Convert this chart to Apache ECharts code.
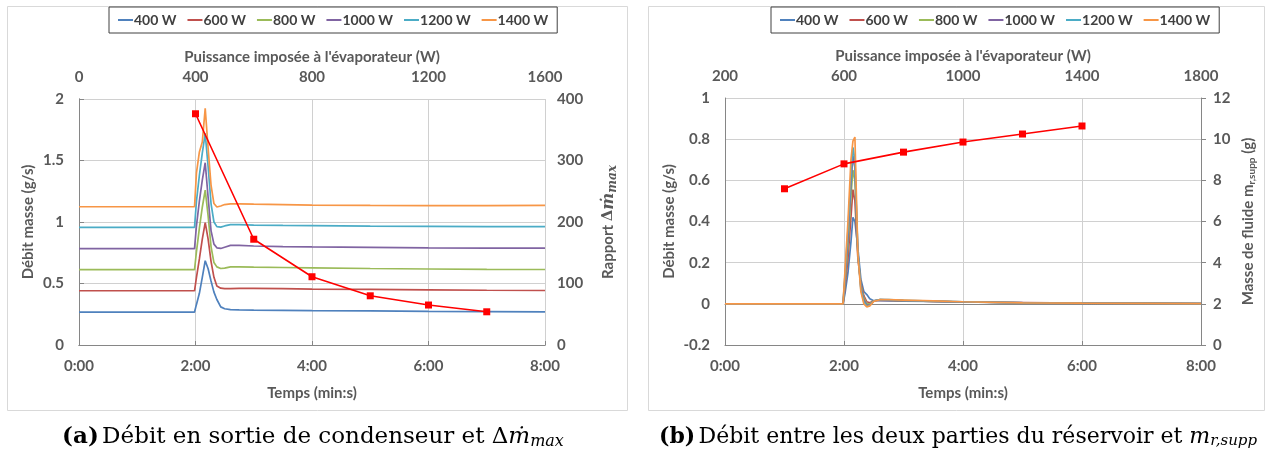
<!DOCTYPE html>
<html>
<head>
<meta charset="utf-8">
<script src="https://cdn.jsdelivr.net/npm/echarts@6/dist/echarts.min.js"></script>
<style>
html,body{margin:0;padding:0;background:#fff;}
#c{width:1269px;height:452px;}
</style>
</head>
<body>
<div id="c"></div>
<script>
// ---------- DATA ----------
const seriesNames = ['400 W', '600 W', '800 W', '1000 W', '1200 W', '1400 W'];
const seriesColors = ['#4F81BD', '#C0504D', '#9BBB59', '#8064A2', '#4BACC6', '#F79646'];

// (a) condenser outlet mass flow (g/s) vs time (s)
const timesA = [0, 119, 121, 124, 127, 130, 133, 136, 139, 142, 146, 150, 156, 165, 180, 210, 240, 300, 360, 420, 480];
const flowA400  = [0.268,0.268,0.33,0.42,0.55,0.685,0.62,0.52,0.43,0.37,0.31,0.295,0.287,0.285,0.283,0.282,0.280,0.278,0.274,0.272,0.270];
const flowA600  = [0.441,0.441,0.55,0.70,0.86,0.995,0.86,0.68,0.55,0.48,0.462,0.458,0.458,0.460,0.460,0.458,0.455,0.452,0.448,0.445,0.443];
const flowA800  = [0.612,0.612,0.76,0.95,1.12,1.26,1.05,0.80,0.67,0.635,0.622,0.625,0.635,0.635,0.633,0.630,0.627,0.622,0.618,0.615,0.614];
const flowA1000 = [0.783,0.783,0.97,1.17,1.34,1.482,1.20,0.93,0.82,0.790,0.785,0.795,0.810,0.810,0.805,0.800,0.797,0.793,0.790,0.788,0.787];
const flowA1200 = [0.957,0.957,1.17,1.38,1.56,1.72,1.45,1.15,1.00,0.962,0.958,0.968,0.978,0.978,0.975,0.972,0.970,0.967,0.965,0.963,0.962];
const flowA1400 = [1.124,1.124,1.40,1.57,1.65,1.924,1.60,1.30,1.15,1.122,1.130,1.142,1.147,1.147,1.145,1.142,1.138,1.135,1.133,1.133,1.135];

// (b) flow between the two reservoir parts (g/s) vs time (s)
const timesB = [0, 119, 121, 124, 127, 129, 131, 134, 137, 140, 143, 146, 150, 156, 165, 180, 210, 240, 300, 360, 420, 480];
const flowB400  = [0,0,0.05,0.15,0.30,0.42,0.40,0.27,0.12,0.06,0.045,0.025,0.015,0.015,0.014,0.013,0.012,0.010,0.006,0.003,0.002,0.001];
const flowB600  = [0,0,0.08,0.22,0.42,0.555,0.50,0.22,0.10,0.04,0.010,0.005,0.015,0.018,0.017,0.015,0.012,0.009,0.006,0.003,0.002,0.001];
const flowB800  = [0,0,0.10,0.28,0.52,0.65,0.60,0.24,0.09,0.03,0.000,0.000,0.015,0.020,0.018,0.016,0.012,0.009,0.005,0.003,0.002,0.001];
const flowB1000 = [0,0,0.12,0.32,0.58,0.72,0.66,0.25,0.08,0.02,-0.008,-0.005,0.014,0.020,0.019,0.016,0.012,0.009,0.005,0.003,0.002,0.001];
const flowB1200 = [0,0,0.14,0.36,0.62,0.76,0.70,0.25,0.07,0.01,-0.012,-0.008,0.014,0.021,0.020,0.017,0.013,0.010,0.005,0.003,0.002,0.001];
const flowB1400 = [0,0,0.16,0.40,0.70,0.79,0.81,0.24,0.06,0.00,-0.015,-0.010,0.012,0.020,0.020,0.018,0.014,0.010,0.005,0.003,0.002,0.001];

// power imposed at evaporator (W) and secondary series
const powers = [400, 600, 800, 1000, 1200, 1400];
const ratioDmMax = [376, 172, 111, 80, 65, 54];
const massSupp = [7.59, 8.80, 9.37, 9.86, 10.25, 10.64];

// axis ranges / ticks
const timeTicks = {min: 0, max: 480, interval: 120};
const powerTicksA = {min: 0, max: 1600, interval: 400};
const powerTicksB = {min: 200, max: 1800, interval: 400};
const flowTicksA = {min: 0, max: 2, interval: 0.5};
const ratioTicks = {min: 0, max: 400, interval: 100};
const flowTicksB = {min: -0.2, max: 1, interval: 0.2};
const massTicks = {min: 0, max: 12, interval: 2};

// ---------- CHART ----------
const flowsA = [flowA400, flowA600, flowA800, flowA1000, flowA1200, flowA1400];
const flowsB = [flowB400, flowB600, flowB800, flowB1000, flowB1200, flowB1400];

const FONT = 'Lato';
const LBL = {color: '#595959', fontFamily: FONT, fontWeight: 'bold', fontSize: 15};
const NAME = {color: '#595959', fontFamily: FONT, fontWeight: 'bold', fontSize: 15};
const AXLINE = {show: true, lineStyle: {color: '#868686', width: 1}};
const GRIDLINE = {show: true, lineStyle: {color: '#D0D0D0', width: 1}};

function fmtTime(v) {
  const m = Math.floor(v / 60), s = Math.round(v % 60);
  return m + ':' + (s < 10 ? '0' : '') + s;
}
function fmtNum(v) { return String(Math.round(v * 1000) / 1000); }

function timeAxis(gi) {
  return Object.assign({
    type: 'value', gridIndex: gi, position: 'bottom',
    name: 'Temps (min:s)', nameLocation: 'middle', nameGap: 41, nameTextStyle: NAME,
    axisLine: AXLINE, axisTick: {show: false},
    splitLine: GRIDLINE,
    axisLabel: Object.assign({margin: 14, formatter: fmtTime}, LBL)
  }, timeTicks);
}
function powerAxis(gi, ticks) {
  return Object.assign({
    type: 'value', gridIndex: gi, position: 'top',
    name: "Puissance imposée à l'évaporateur (W)", nameLocation: 'middle', nameGap: 34, nameTextStyle: NAME,
    axisLine: AXLINE, axisTick: {show: true, length: 4, lineStyle: {color: '#868686'}},
    splitLine: {show: false},
    axisLabel: Object.assign({margin: 14, formatter: fmtNum}, LBL)
  }, ticks);
}

const series = [];
seriesNames.forEach((n, i) => {
  series.push({
    name: n, type: 'line', xAxisIndex: 0, yAxisIndex: 0, showSymbol: false, symbol: 'none',
    lineStyle: {color: seriesColors[i], width: 1.7}, itemStyle: {color: seriesColors[i]},
    data: timesA.map((t, k) => [t, flowsA[i][k]]), z: 2
  });
});
seriesNames.forEach((n, i) => {
  series.push({
    name: n, type: 'line', xAxisIndex: 2, yAxisIndex: 2, showSymbol: false, symbol: 'none',
    lineStyle: {color: seriesColors[i], width: 1.7}, itemStyle: {color: seriesColors[i]},
    data: timesB.map((t, k) => [t, flowsB[i][k]]), z: 2
  });
});
series.push({
  name: 'ratio', type: 'line', xAxisIndex: 1, yAxisIndex: 1, symbol: 'rect', symbolSize: 7,
  lineStyle: {color: '#FF0000', width: 1.6}, itemStyle: {color: '#FF0000'},
  data: powers.map((p, k) => [p, ratioDmMax[k]]), z: 5
});
series.push({
  name: 'mass', type: 'line', xAxisIndex: 3, yAxisIndex: 3, symbol: 'rect', symbolSize: 7,
  lineStyle: {color: '#FF0000', width: 1.6}, itemStyle: {color: '#FF0000'},
  data: powers.map((p, k) => [p, massSupp[k]]), z: 5
});

const legendBase = {
  data: seriesNames, icon: 'rect', itemWidth: 15, itemHeight: 2, itemGap: 11,
  borderColor: '#404040', borderWidth: 1, padding: [6, 9],
  textStyle: {color: '#404040', fontFamily: FONT, fontWeight: 'bold', fontSize: 14, padding: [0, 0, 0, -4]},
  selectedMode: false
};

const option = {
  animation: false,
  backgroundColor: '#fff',
  legend: [
    Object.assign({left: 109, top: 7}, legendBase),
    Object.assign({left: 771, top: 7}, legendBase)
  ],
  grid: [
    {left: 79, top: 99, width: 466, height: 246, containLabel: false},
    {left: 725, top: 98, width: 476, height: 247, containLabel: false}
  ],
  xAxis: [timeAxis(0), powerAxis(0, powerTicksA), timeAxis(1), powerAxis(1, powerTicksB)],
  yAxis: [
    Object.assign({
      type: 'value', gridIndex: 0, position: 'left',
      name: 'Débit masse (g/s)', nameLocation: 'middle', nameGap: 43, nameTextStyle: NAME,
      axisLine: AXLINE, axisTick: {show: false}, splitLine: GRIDLINE,
      axisLabel: Object.assign({margin: 15, formatter: fmtNum}, LBL)
    }, flowTicksA),
    Object.assign({
      type: 'value', gridIndex: 0, position: 'right',
      name: '{t|Rapport }{d|Δ}{m|ṁ}{s|max}', nameLocation: 'middle', nameGap: 53, nameRotate: 90,
      nameTextStyle: Object.assign({}, NAME, {rich: {
        t: {color: '#595959', fontFamily: FONT, fontWeight: 'bold', fontSize: 15},
        d: {color: '#595959', fontFamily: 'DejaVu Serif', fontSize: 15},
        m: {color: '#595959', fontFamily: 'DejaVu Serif', fontStyle: 'italic', fontSize: 16},
        s: {color: '#595959', fontFamily: 'DejaVu Serif', fontStyle: 'italic', fontSize: 12, padding: [9, 0, 0, 0]}
      }}),
      axisLine: AXLINE, axisTick: {show: true, length: 5, lineStyle: {color: '#868686'}}, splitLine: {show: false},
      axisLabel: Object.assign({margin: 12}, LBL)
    }, ratioTicks),
    Object.assign({
      type: 'value', gridIndex: 1, position: 'left',
      name: 'Débit masse (g/s)', nameLocation: 'middle', nameGap: 48, nameTextStyle: NAME,
      axisLine: AXLINE, axisTick: {show: false}, splitLine: GRIDLINE,
      axisLabel: Object.assign({margin: 15, formatter: fmtNum}, LBL)
    }, flowTicksB),
    Object.assign({
      type: 'value', gridIndex: 1, position: 'right',
      name: '{t|Masse de fluide m}{s|r,supp}{t| (g)}', nameLocation: 'middle', nameGap: 38, nameRotate: 90,
      nameTextStyle: Object.assign({}, NAME, {rich: {
        t: {color: '#595959', fontFamily: FONT, fontWeight: 'bold', fontSize: 15},
        s: {color: '#595959', fontFamily: FONT, fontWeight: 'bold', fontSize: 10, padding: [8, 0, 0, 0]}
      }}),
      axisLine: AXLINE, axisTick: {show: true, length: 5, lineStyle: {color: '#868686'}}, splitLine: {show: false},
      axisLabel: Object.assign({margin: 12}, LBL)
    }, massTicks)
  ],
  graphic: [
    {type: 'rect', shape: {x: 7.5, y: 6.5, width: 620, height: 404}, style: {fill: 'none', stroke: '#D9D9D9', lineWidth: 1}, z: -10},
    {type: 'rect', shape: {x: 648.5, y: 6.5, width: 616, height: 404}, style: {fill: 'none', stroke: '#D9D9D9', lineWidth: 1}, z: -10},
    {type: 'text', x: 313, y: 437, style: {
      text: '{b|(a)} {r|Débit en sortie de condenseur et }{d|Δ}{i|ṁ}{s|max}',
      align: 'center', verticalAlign: 'middle',
      rich: {
        b: {fontFamily: 'DejaVu Serif', fontWeight: 'bold', fontSize: 23, fill: '#000'},
        r: {fontFamily: 'DejaVu Serif', fontSize: 23, fill: '#000'},
        d: {fontFamily: 'DejaVu Serif', fontSize: 23, fill: '#000'},
        i: {fontFamily: 'DejaVu Serif', fontStyle: 'italic', fontSize: 23, fill: '#000'},
        s: {fontFamily: 'DejaVu Serif', fontStyle: 'italic', fontSize: 16, fill: '#000', padding: [9, 0, 0, 0]}
      }
    }},
    {type: 'text', x: 958, y: 437, style: {
      text: '{b|(b)} {r|Débit entre les deux parties du réservoir et }{i|m}{s|r,supp}',
      align: 'center', verticalAlign: 'middle',
      rich: {
        b: {fontFamily: 'DejaVu Serif', fontWeight: 'bold', fontSize: 22, fill: '#000'},
        r: {fontFamily: 'DejaVu Serif', fontSize: 22, fill: '#000'},
        i: {fontFamily: 'DejaVu Serif', fontStyle: 'italic', fontSize: 22, fill: '#000'},
        s: {fontFamily: 'DejaVu Serif', fontStyle: 'italic', fontSize: 15, fill: '#000', padding: [9, 0, 0, 0]}
      }
    }}
  ],
  series: series
};

const chart = echarts.init(document.getElementById('c'), null, {renderer: 'canvas', width: 1269, height: 452});
chart.setOption(option);
</script>
</body>
</html>
